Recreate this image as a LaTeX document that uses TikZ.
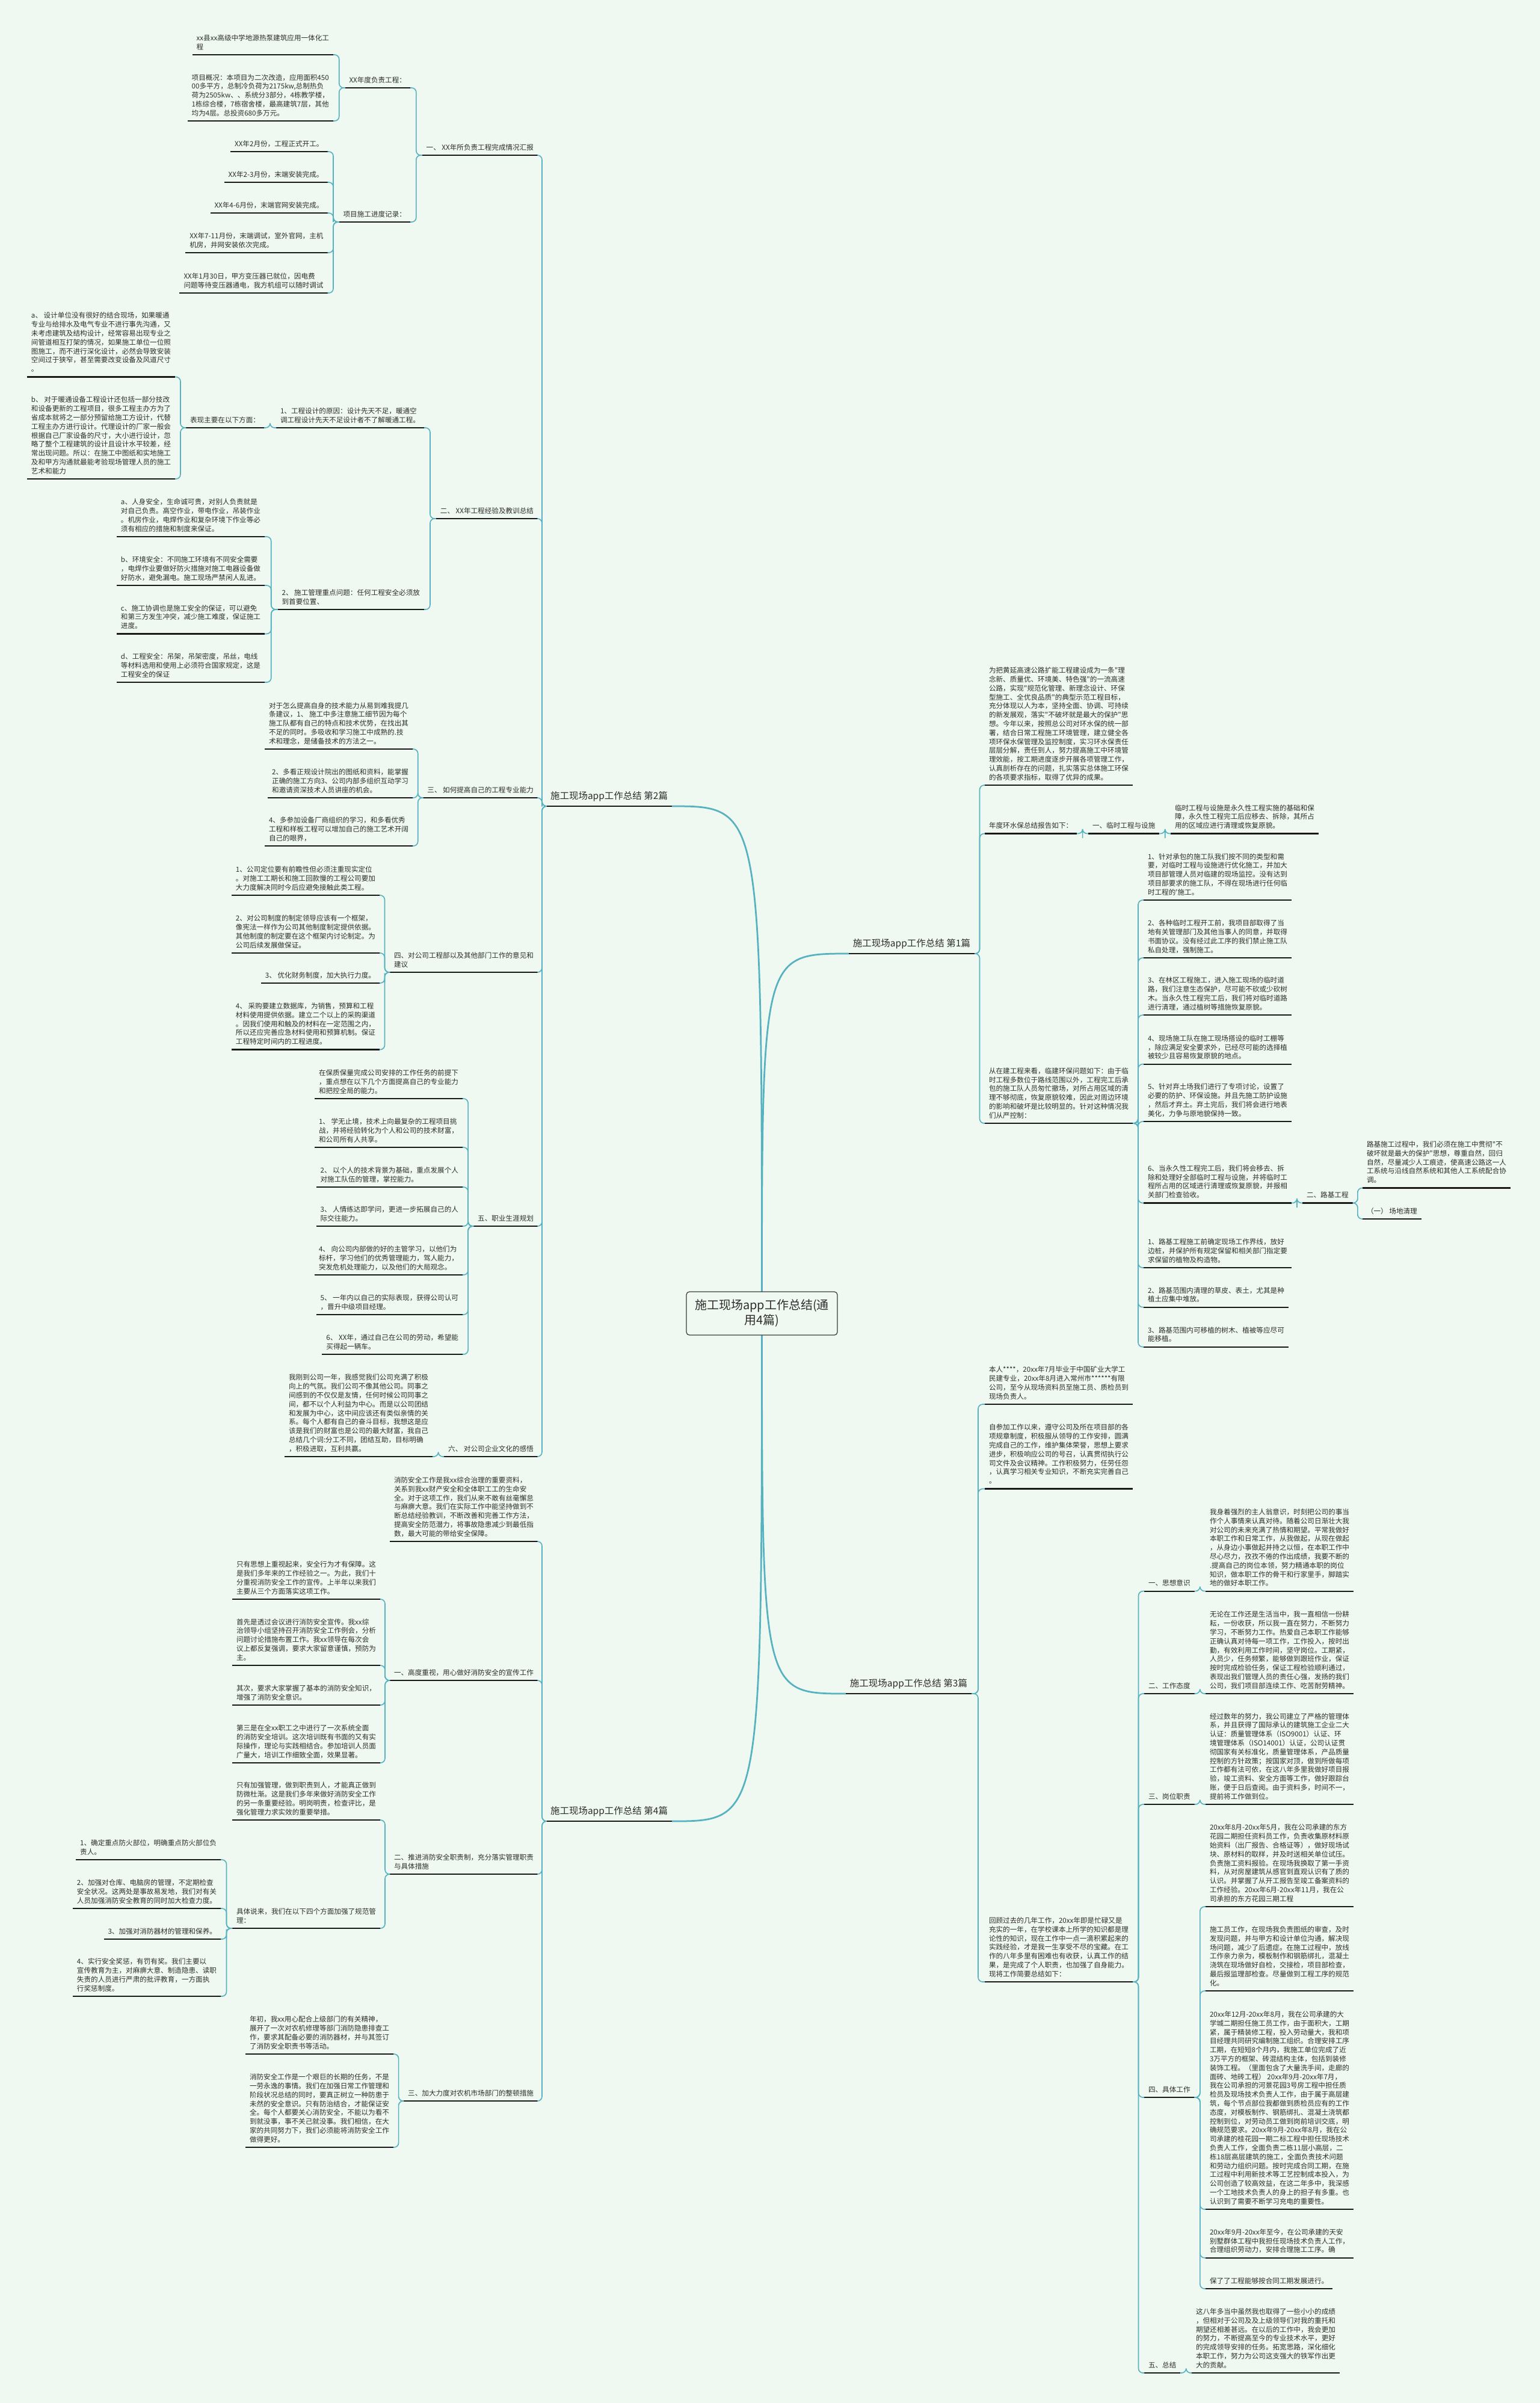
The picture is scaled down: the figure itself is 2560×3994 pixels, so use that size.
\documentclass[tikz,border=0pt]{standalone}
\usepackage{fontspec}
\newfontfamily\cjk{Noto Sans CJK SC}
\usetikzlibrary{calc}
\definecolor{bgc}{RGB}{240,249,241}
\definecolor{tealc}{RGB}{86,178,192}
\definecolor{rootb}{RGB}{60,60,60}
\definecolor{txtc}{RGB}{45,45,45}
\tikzset{
 uline/.style={draw=black!90, line width=0.85pt},
 base/.style={align=left, text=txtc, inner xsep=2.6pt, inner ysep=1.5pt, font=\cjk\fontsize{4.64pt}{5.92pt}\selectfont, text depth=1.8pt, append after command={(\tikzlastnode.south west) edge[uline] (\tikzlastnode.south east)}},
 L/.style={base, anchor=south east},
 R/.style={base, anchor=south west},
 mainlbl/.style={base, font=\cjk\fontsize{6.2pt}{7.5pt}\selectfont, text depth=2.9pt},
 conn/.style={draw=tealc, line width=0.65pt, rounded corners=3pt},
 rootconn/.style={draw=tealc, line width=1.1pt},
 rootbox/.style={draw=rootb, text=txtc, line width=0.5pt, fill=bgc, rounded corners=2pt, align=center, font=\cjk\fontsize{8pt}{10pt}\selectfont, minimum width=100.4pt, minimum height=28.8pt, inner sep=0pt},
}
\newcommand{\cn}[2]{\draw[conn] (#1.south east) -| ($(#1.south east)!.5!(#2.south west)$) |- (#2.south west);}
\begin{document}
\begin{tikzpicture}[x=0.4pt,y=-0.4pt]
\fill[bgc] (0,0) rectangle (2560,3994);
\useasboundingbox (0,0) rectangle (2560,3994);

% main branches
\node[mainlbl, anchor=south west] (b2) at (908,1340) {施工现场app工作总结 第2篇};
\node[mainlbl, anchor=south west] (b4) at (908,3027) {施工现场app工作总结 第4篇};
\node[mainlbl, anchor=south east] (b1) at (1620,1585) {施工现场app工作总结 第1篇};
\node[mainlbl, anchor=south east] (b3) at (1615,2815) {施工现场app工作总结 第3篇};
\coordinate (rc) at (1266.5,2183);
\draw[rootconn] (rc) .. controls (1266.5,1340) and (1266.5,1340) .. (b2.south east);
\draw[rootconn] (rc) .. controls (1266.5,1585) and (1266.5,1585) .. (b1.south west);
\draw[rootconn] (rc) .. controls (1266.5,2815) and (1266.5,2815) .. (b3.south west);
\draw[rootconn] (rc) .. controls (1266.5,3027) and (1266.5,3027) .. (b4.south east);
\node[rootbox] (root) at (rc) {施工现场app工作总结(通\\用4篇)};

% ===== 第2篇 =====
\node[L] (a1) at (894,258) {一、 XX年所负责工程完成情况汇报};
\node[L] (a2) at (894,862) {二、 XX年工程经验及教训总结};
\node[L] (a3) at (894,1326) {三、 如何提高自己的工程专业能力};
\node[L] (a4) at (894,1616) {四、对公司工程部以及其他部门工作的意见和\\建议};
\node[L] (a5) at (894,2038) {五、职业生涯规划};
\node[L] (a6) at (894,2421) {六、 对公司企业文化的感悟};
\foreach \n in {a1,a2,a3,a4,a5,a6} {\cn{\n}{b2}}

\node[L] (a1a) at (682,146) {XX年度负责工程：};
\node[L] (a1b) at (682,369) {项目施工进度记录：};
\cn{a1a}{a1} \cn{a1b}{a1}
\node[L] (a1a1) at (554,91) {xx县xx高级中学地源热泵建筑应用一体化工\\程};
\node[L] (a1a2) at (554,201) {项目概况：本项目为二次改造，应用面积450\\00多平方，总制冷负荷为2175kw,总制热负\\荷为2505kw、、系统分3部分，4栋教学楼，\\1栋综合楼，7栋宿舍楼，最高建筑7层，其他\\均为4层。总投资680多万元。};
\cn{a1a1}{a1a} \cn{a1a2}{a1a}
\node[L] (p1) at (544.5,252) {XX年2月份，工程正式开工。};
\node[L] (p2) at (544.5,303) {XX年2-3月份，末端安装完成。};
\node[L] (p3) at (544.5,354) {XX年4-6月份，末端官网安装完成。};
\node[L] (p4) at (544.5,420) {XX年7-11月份，末端调试，室外官网，主机\\机房，井网安装依次完成。};
\node[L] (p5) at (544.5,487) {XX年1月30日，甲方变压器已就位，因电费\\问题等待变压器通电，我方机组可以随时调试};
\foreach \n in {p1,p2,p3,p4,p5} {\cn{\n}{a1b}}

\node[L] (a2a) at (705,711) {1、工程设计的原因：设计先天不足，暖通空\\调工程设计先天不足设计者不了解暖通工程。};
\node[L] (a2b) at (705,1013) {2、 施工管理重点问题：任何工程安全必须放\\到首要位置、};
\cn{a2a}{a2} \cn{a2b}{a2}
\node[L] (a2a1) at (439,711) {表现主要在以下方面：};
\cn{a2a1}{a2a}
\node[L] (q1) at (291,626.5) {a、 设计单位没有很好的结合现场，如果暖通\\专业与给排水及电气专业不进行事先沟通，又\\未考虑建筑及结构设计，经常容易出现专业之\\间管道相互打架的情况，如果施工单位一位照\\图施工，而不进行深化设计，必然会导致安装\\空间过于狭窄，甚至需要改变设备及风道尺寸\\。};
\node[L] (q2) at (291,796) {b、 对于暖通设备工程设计还包括一部分技改\\和设备更新的工程项目，很多工程主办方为了\\省成本就将之一部分预留给施工方设计，代替\\工程主办方进行设计。代理设计的厂家一般会\\根据自己厂家设备的尺寸，大小进行设计，忽\\略了整个工程建筑的设计且设计水平较差，经\\常出现问题。所以：在施工中图纸和实地施工\\及和甲方沟通就最能考验现场管理人员的施工\\艺术和能力};
\cn{q1}{a2a1} \cn{q2}{a2a1}
\node[L] (r1) at (440,892) {a、人身安全，生命诚可贵，对别人负责就是\\对自己负责。高空作业，带电作业，吊装作业\\。机房作业，电焊作业和复杂环境下作业等必\\须有相应的措施和制度来保证。};
\node[L] (r2) at (440,973) {b、环境安全：不同施工环境有不同安全需要\\，电焊作业要做好防火措施对施工电器设备做\\好防水，避免漏电。施工现场严禁闲人乱进。};
\node[L] (r3) at (440,1053.5) {c、施工协调也是施工安全的保证，可以避免\\和第三方发生冲突，减少施工难度，保证施工\\进度。};
\node[L] (r4) at (440,1134) {d、工程安全：吊架，吊架密度，吊丝，电线\\等材料选用和使用上必须符合国家规定，这是\\工程安全的保证};
\foreach \n in {r1,r2,r3,r4} {\cn{\n}{a2b}}

\node[L] (s1) at (686,1245) {对于怎么提高自身的技术能力从易到难我提几\\条建议，1、 施工中多注意施工细节因为每个\\施工队都有自己的特点和技术优势，在找出其\\不足的同时。多吸收和学习施工中成熟的.技\\术和理念，是储备技术的方法之一。};
\node[L] (s2) at (686,1326) {2、多看正规设计院出的图纸和资料，能掌握\\正确的施工方向3、公司内部多组织互动学习\\和邀请资深技术人员讲座的机会。};
\node[L] (s3) at (686,1406) {4、多参加设备厂商组织的学习，和多看优秀\\工程和样板工程可以增加自己的施工艺术开阔\\自己的眼界，};
\foreach \n in {s1,s2,s3} {\cn{\n}{a3}}

\node[L] (t1) at (631,1488) {1、公司定位要有前瞻性但必须注重现实定位\\。对施工工期长和施工回款慢的工程公司要加\\大力度解决同时今后应避免接触此类工程。};
\node[L] (t2) at (631,1584) {2、对公司制度的制定领导应该有一个框架，\\像宪法一样作为公司其他制度制定提供依据。\\其他制度的制定要在这个框架内讨论制定。为\\公司后续发展做保证。};
\node[L] (t3) at (631,1634) {3、 优化财务制度，加大执行力度。};
\node[L] (t4) at (631,1744.5) {4、 采购要建立数据库，为销售，预算和工程\\材料使用提供依据。建立二个以上的采购渠道\\。因我们使用和触及的材料在一定范围之内，\\所以还应完善应急材料使用和预算机制。保证\\工程特定时间内的工程进度。};
\foreach \n in {t1,t2,t3,t4} {\cn{\n}{a4}}

\node[L] (u0) at (769,1826) {在保质保量完成公司安排的工作任务的前提下\\，重点想在以下几个方面提高自己的专业能力\\和把控全局的能力。};
\node[L] (u1) at (769,1907) {1、 学无止境，技术上向最复杂的工程项目挑\\战，并将经验转化为个人和公司的技术财富，\\和公司所有人共享。};
\node[L] (u2) at (769,1973) {2、 以个人的技术背景为基础，重点发展个人\\对施工队伍的管理，掌控能力。};
\node[L] (u3) at (769,2038) {3、 人情练达即学问，更进一步拓展自己的人\\际交往能力。};
\node[L] (u4) at (769,2119) {4、 向公司内部做的好的主管学习，以他们为\\标杆，学习他们的优秀管理能力，驾人能力，\\突发危机处理能力，以及他们的大局观念。};
\node[L] (u5) at (769,2185) {5、 一年内以自己的实际表现，获得公司认可\\，晋升中级项目经理。};
\node[L] (u6) at (769,2251) {6、 XX年，通过自己在公司的劳动，希望能\\买得起一辆车。};
\foreach \n in {u0,u1,u2,u3,u4,u5,u6} {\cn{\n}{a5}}

\node[L] (v1) at (719,2421) {我刚到公司一年，我感觉我们公司充满了积极\\向上的气氛。我们公司不像其他公司。同事之\\间感到的不仅仅是友情，任何时候公司同事之\\间，都不以个人利益为中心。而是以公司团结\\和发展为中心，这中间应该还有类似亲情的关\\系。每个人都有自己的奋斗目标，我想这是应\\该是我们的财富也是公司的最大财富，我自己\\总结几个词:分工不同，团结互助，目标明确\\，积极进取，互利共赢。};
\cn{v1}{a6}

% ===== 第4篇 =====
\node[L] (c0) at (894,2562) {消防安全工作是我xx综合治理的重要资料，\\关系到我xx财产安全和全体职工工的生命安\\全。对于这项工作，我们从来不敢有丝毫懈怠\\与麻痹大意。我们在实际工作中能坚持做到不\\断总结经验教训，不断改善和完善工作方法，\\提高安全防范潜力，将事故隐患减少到最低指\\数，最大可能的带给安全保障。};
\node[L] (c1) at (894,2793) {一、高度重视，用心做好消防安全的宣传工作};
\node[L] (c2) at (894,3115) {二、推进消防安全职责制，充分落实管理职责\\与具体措施};
\node[L] (c3) at (894,3492) {三、加大力度对农机市场部门的整顿措施};
\foreach \n in {c0,c1,c2,c3} {\cn{\n}{b4}}

\node[L] (w1) at (632,2658) {只有思想上重视起来，安全行为才有保障。这\\是我们多年来的工作经验之一。为此，我们十\\分重视消防安全工作的宣传。上半年以来我们\\主要从三个方面落实这项工作。};
\node[L] (w2) at (632,2768) {首先是透过会议进行消防安全宣传。我xx综\\治领导小组坚持召开消防安全工作例会，分析\\问题讨论措施布置工作。我xx领导在每次会\\议上都反复强调，要求大家留意谨慎，预防为\\主。};
\node[L] (w3) at (632,2834) {其次，要求大家掌握了基本的消防安全知识，\\增强了消防安全意识。};
\node[L] (w4) at (632,2930) {第三是在全xx职工之中进行了一次系统全面\\的消防安全培训。这次培训既有书面的又有实\\际操作，理论与实践相结合。参加培训人员面\\广量大，培训工作细致全面，效果显著。};
\foreach \n in {w1,w2,w3,w4} {\cn{\n}{c1}}

\node[L] (x1) at (632,3025) {只有加强管理，做到职责到人，才能真正做到\\防微杜渐。这是我们多年来做好消防安全工作\\的另一条重要经验。明岗明责，检查评比，是\\强化管理力求实效的重要举措。};
\node[L] (x2) at (632,3205) {具体说来，我们在以下四个方面加强了规范管\\理：};
\cn{x1}{c2} \cn{x2}{c2}
\node[L] (y1) at (367,3091) {1、确定重点防火部位，明确重点防火部位负\\责人。};
\node[L] (y2) at (367,3172) {2、加强对仓库、电脑房的管理，不定期检查\\安全状况。这两处是事故易发地，我们对有关\\人员加强消防安全教育的同时加大检查力度。};
\node[L] (y3) at (367,3223) {3、加强对消防器材的管理和保养。};
\node[L] (y4) at (367,3318) {4、实行安全奖惩，有罚有奖。我们主要以\\宣传教育为主，对麻痹大意、制造隐患、读职\\失责的人员进行严肃的批评教育，一方面执\\行奖惩制度。};
\foreach \n in {y1,y2,y3,y4} {\cn{\n}{x2}}

\node[L] (z1) at (654,3414) {年初，我xx用心配合上级部门的有关精神，\\展开了一次对农机修理等部门消防隐患排查工\\作，要求其配备必要的消防器材，并与其签订\\了消防安全职责书等活动。};
\node[L] (z2) at (654,3569) {消防安全工作是一个艰巨的长期的任务，不是\\一劳永逸的事情。我们在加强日常工作管理和\\阶段状况总结的同时，要真正树立一种防患于\\未然的安全意识。只有防治结合，才能保证安\\全。每个人都要关心消防安全，不能以为看不\\到就没事，事不关己就没事。我们相信，在大\\家的共同努力下，我们必须能将消防安全工作\\做得更好。};
\cn{z1}{c3} \cn{z2}{c3}

% ===== 第1篇 =====
\node[R] (d0) at (1637,1305) {为把黄延高速公路扩能工程建设成为一条"理\\念新、质量优、环境美、特色强"的一流高速\\公路，实现"规范化管理、新理念设计、环保\\型施工、全优良品质"的典型示范工程目标，\\充分体现以人为本，坚持全面、协调、可持续\\的新发展观，落实"不破坏就是最大的保护"思\\想。今年以来，按照总公司对环水保的统一部\\署，结合日常工程施工环境管理，建立健全各\\项环保水保管理及监控制度，实习环水保责任\\层层分解，责任到人，努力提高施工中环境管\\理效能，按工期进度逐步开展各项管理工作，\\认真剖析存在的问题，扎实落实总体施工环保\\的各项要求指标，取得了优异的成果。};
\node[R] (d1) at (1637,1385.5) {年度环水保总结报告如下：};
\node[R] (d2) at (1637,1867) {从在建工程来看，临建环保问题如下：由于临\\时工程多数位于路线范围以外，工程完工后承\\包的施工队人员匆忙撤场，对所占用区域的清\\理不够彻底，恢复原貌较难，因此对周边环境\\的影响和破坏是比较明显的。针对这种情况我\\们从严控制：};
\foreach \n in {d0,d1,d2} {\cn{b1}{\n}}
\node[R] (d1a) at (1809,1385.5) {一、临时工程与设施};
\cn{d1}{d1a}
\node[R] (d1b) at (1946,1385.5) {临时工程与设施是永久性工程实施的基础和保\\障，永久性工程完工后应移去、拆除，其所占\\用的区域应进行清理或恢复原貌。};
\cn{d1a}{d1b}
\node[R] (e1) at (1901,1496) {1、针对承包的施工队我们按不同的类型和需\\要，对临时工程与设施进行优化施工，并加大\\项目部管理人员对临建的现场监控。没有达到\\项目部要求的施工队，不得在现场进行任何临\\时工程的'施工。};
\node[R] (e2) at (1901,1592) {2、各种临时工程开工前，我项目部取得了当\\地有关管理部门及其他当事人的同意，并取得\\书面协议。没有经过此工序的我们禁止施工队\\私自处理，强制施工。};
\node[R] (e3) at (1901,1687) {3、在林区工程施工，进入施工现场的临时道\\路，我们注意生态保护，尽可能不砍或少砍树\\木。当永久性工程完工后，我们将对临时道路\\进行清理，通过植树等措施恢复原貌。};
\node[R] (e4) at (1901,1768.6) {4、现场施工队在施工现场搭设的临时工棚等\\，除应满足安全要求外，已经尽可能的选择植\\被较少且容易恢复原貌的地点。};
\node[R] (e5) at (1901,1864) {5、针对弃土场我们进行了专项讨论，设置了\\必要的防护、环保设施。并且先施工防护设施\\，然后才弃土。弃土完后，我们将会进行地表\\美化，力争与原地貌保持一致。};
\node[R] (e6) at (1901,1999.5) {6、当永久性工程完工后，我们将会移去、拆\\除和处理好全部临时工程与设施，并将临时工\\程所占用的区域进行清理或恢复原貌，并报相\\关部门检查验收。};
\node[R] (f1) at (1901,2107) {1、路基工程施工前确定现场工作界线，放好\\边桩，并保护所有规定保留和相关部门指定要\\求保留的植物及构造物。};
\node[R] (f2) at (1901,2172.6) {2、路基范围内清理的草皮、表土，尤其是种\\植土应集中堆放。};
\node[R] (f3) at (1901,2238.7) {3、路基范围内可移植的树木、植被等应尽可\\能移植。};
\foreach \n in {e1,e2,e3,e4,e5,e6,f1,f2,f3} {\cn{d2}{\n}}
\node[R] (g) at (2165,1999.5) {二、路基工程};
\cn{e6}{g}
\node[R] (g1) at (2265,1974.5) {路基施工过程中，我们必须在施工中贯彻"不\\破坏就是最大的保护"思想，尊重自然，回归\\自然，尽量减少人工痕迹，使高速公路这一人\\工系统与沿线自然系统和其他人工系统配合协\\调。};
\node[R] (g2) at (2265,2026) {（一） 场地清理};
\cn{g}{g1} \cn{g}{g2}

% ===== 第3篇 =====
\node[R] (h1) at (1637,2334) {本人****，20xx年7月毕业于中国矿业大学工\\民建专业，20xx年8月进入常州市******有限\\公司，至今从现场资料员至施工员、质检员到\\现场负责人。};
\node[R] (h2) at (1637,2474.5) {自参加工作以来，遵守公司及所在项目部的各\\项规章制度，积极服从领导的工作安排，圆满\\完成自己的工作，维护集体荣誉，思想上要求\\进步，积极响应公司的号召，认真贯彻执行公\\司文件及会议精神。工作积极努力，任劳任怨\\，认真学习相关专业知识，不断充实完善自己\\。};
\node[R] (h3) at (1637,3294) {回顾过去的几年工作，20xx年即是忙碌又是\\充实的一年，在学校课本上所学的知识都是理\\论性的知识，现在工作中一点一滴积累起来的\\实践经验，才是我一生享受不尽的宝藏。在工\\作的八年多里有困难也有收获，认真工作的结\\果，是完成了个人职责，也加强了自身能力。\\现将工作简要总结如下：};
\foreach \n in {h1,h2,h3} {\cn{b3}{\n}}
\node[R] (i1) at (1902,2644.6) {一、思想意识};
\node[R] (i2) at (1902,2815) {二、工作态度};
\node[R] (i3) at (1902,2999) {三、岗位职责};
\node[R] (i4) at (1902,3486) {四、具体工作};
\node[R] (i5) at (1902,3944) {五、总结};
\foreach \n in {i1,i2,i3,i4,i5} {\cn{h3}{\n}}
\node[R] (j1) at (2004,2644.6) {我身着强烈的主人翁意识，时刻把公司的事当\\作个人事情来认真对待。随着公司日渐壮大我\\对公司的未来充满了热情和期望。平常我做好\\本职工作和日常工作，从我做起，从现在做起\\，从身边小事做起并持之以恒，在本职工作中\\尽心尽力，孜孜不倦的作出成绩，我要不断的\\.提高自己的岗位本领，努力精通本职的岗位\\知识，做本职工作的骨干和行家里手，脚踏实\\地的做好本职工作。};
\node[R] (j2) at (2004,2815) {无论在工作还是生活当中，我一直相信一份耕\\耘，一份收获，所以我一直在努力，不断努力\\学习，不断努力工作。热爱自己本职工作能够\\正确认真对待每一项工作，工作投入，按时出\\勤，有效利用工作时间，坚守岗位。工期紧，\\人员少，任务频繁，能够做到跟班作业，保证\\按时完成检验任务，保证工程检验顺利通过，\\表现出我们管理人员的责任心强，发扬的我们\\公司，我们项目部连续工作、吃苦耐劳精神。};
\node[R] (j3) at (2004,2999) {经过数年的努力，我公司建立了严格的管理体\\系，并且获得了国际承认的建筑施工企业二大\\认证：质量管理体系（ISO9001）认证、环\\境管理体系（ISO14001）认证，公司认证贯\\彻国家有关标准化，质量管理体系，产品质量\\控制的方针政策；按国家对顶，做到所做每项\\工作都有法可依，在这八年多里我做好项目报\\验，竣工资料、安全方面等工作，做好跟踪台\\账，便于日后查阅。由于资料多，时间不一，\\提前将工作做到位。};
\cn{i1}{j1} \cn{i2}{j2} \cn{i3}{j3}
\node[R] (k1) at (2004,3169) {20xx年8月-20xx年5月，我在公司承建的东方\\花园二期担任资料员工作，负责收集原材料原\\始资料（出厂报告、合格证等），做好现场试\\块、原材料的取样，并及时送相关单位试压。\\负责施工资料报验。在现场我换取了第一手资\\料，从对房屋建筑从感官到直观认识有了质的\\认识。并掌握了从开工报告至竣工备案资料的\\工作经验。20xx年6月-20xx年11月，我在公\\司承担的东方花园三期工程};
\node[R] (k2) at (2004,3309) {施工员工作，在现场我负责图纸的审查，及时\\发现问题，并与甲方和设计单位沟通，解决现\\场问题，减少了后遗症。在施工过程中，放线\\工作亲力亲为，模板制作和钢筋绑扎，混凝土\\浇筑在现场做好自检，交接检，项目部检查，\\最后报监理部检查。尽量做到工程工序的规范\\化。};
\node[R] (k3) at (2004,3672) {20xx年12月-20xx年8月，我在公司承建的大\\学城二期担任施工员工作，由于面积大，工期\\紧，属于精装修工程，投入劳动量大，我和项\\目经理共同研究编制施工组织。合理安排工序\\工期，在短短8个月内，我施工单位完成了近\\3万平方的框架、砖混结构主体，包括到装修\\装饰工程。（里面包含了大量洗手间，走廊的\\面砖、地砖工程） 20xx年9月-20xx年7月，\\我在公司承担的河景花园3号房工程中担任质\\检员及现场技术负责人工作，由于属于高层建\\筑，每个节点部位我都做到质检员应有的工作\\态度，对模板制作、钢筋绑扎、混凝土浇筑都\\控制到位，对劳动员工做到岗前培训交底，明\\确规范要求。20xx年9月-20xx年8月，我在公\\司承建的桂花园一期二标工程中担任现场技术\\负责人工作，全面负责二栋11层小高层，二\\栋18层高层建筑的施工，全面负责技术问题\\和劳动力组织问题。按时完成合同工期，在施\\工过程中利用新技术等工艺控制成本投入，为\\公司创造了较高效益，在这二年多中，我深感\\一个工地技术负责人的身上的担子有多重。也\\认识到了需要不断学习充电的重要性。};
\node[R] (k4) at (2004,3752.7) {20xx年9月-20xx年至今，在公司承建的天安\\别墅群体工程中我担任现场技术负责人工作，\\合理组织劳动力，安排合理施工工序。确};
\node[R] (k5) at (2004,3804) {保了了工程能够按合同工期发展进行。};
\foreach \n in {k1,k2,k3,k4,k5} {\cn{i4}{\n}}
\node[R] (j5) at (1981,3944) {这八年多当中虽然我也取得了一些小小的成绩\\，但相对于公司及及上级领导们对我的重托和\\期望还相差甚远。在以后的工作中，我会更加\\的努力，不断提高至今的专业技术水平，更好\\的完成领导安排的任务。拓宽思路，深化细化\\本职工作，努力为公司这支强大的铁军作出更\\大的贡献。};
\cn{i5}{j5}
\end{tikzpicture}
\end{document}
